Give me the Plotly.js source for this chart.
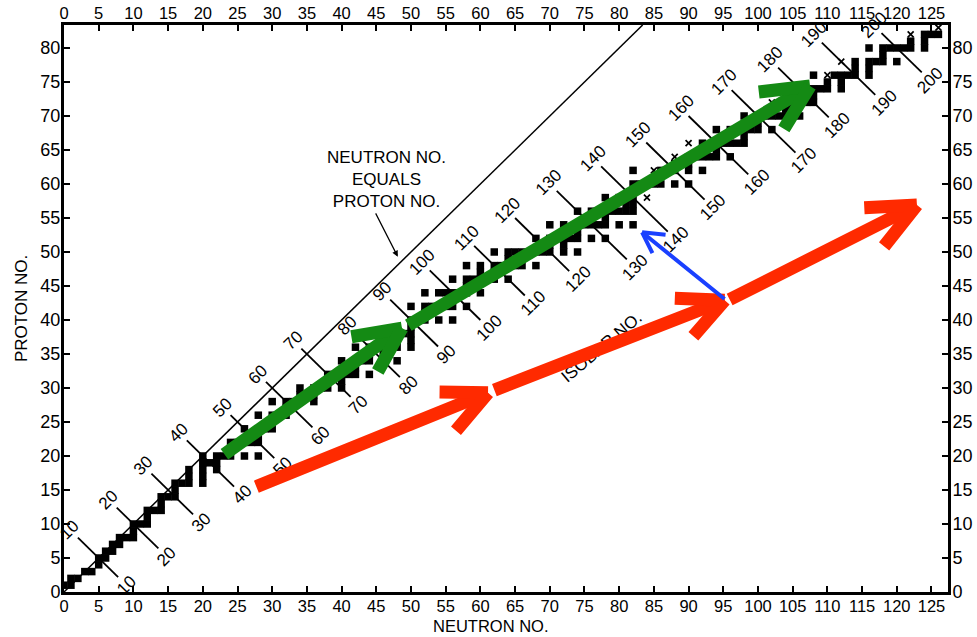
<!DOCTYPE html>
<html><head><meta charset="utf-8">
<script src="https://cdn.plot.ly/plotly-3.0.1.min.js"></script>
<style>html,body{margin:0;padding:0;background:#fff}#chart{width:977px;height:637px}</style>
</head><body><div id="chart"></div>
<script>
// ---- Data: stable nuclides (proton number Z -> mass numbers A) ----
const protonNumbers = [1,2,3,4,5,6,7,8,9,10,11,12,13,14,15,16,17,18,19,20,21,22,23,24,25,26,27,28,29,30,
  31,32,33,34,35,36,37,38,39,40,41,42,43,44,45,46,47,48,49,50,51,52,53,54,55,56,57,58,59,60,
  61,62,63,64,65,66,67,68,69,70,71,72,73,74,75,76,77,78,79,80,81,82,83];
const stableMassNumbers = [
  [1,2],[3,4],[6,7],[9],[10,11],[12,13],[14,15],[16,17,18],[19],[20,21,22],
  [23],[24,25,26],[27],[28,29,30],[31],[32,33,34,36],[35,37],[36,38,40],[39,40,41],[40,42,43,44,46,48],
  [45],[46,47,48,49,50],[50,51],[50,52,53,54],[55],[54,56,57,58],[59],[58,60,61,62,64],[63,65],[64,66,67,68,70],
  [69,71],[70,72,73,74,76],[75],[74,76,77,78,80,82],[79,81],[78,80,82,83,84,86],[85,87],[84,86,87,88],[89],[90,91,92,94,96],
  [93],[92,94,95,96,97,98,100],[],[96,98,99,100,101,102,104],[103],[102,104,105,106,108,110],[107,109],[106,108,110,111,112,113,114,116],[113,115],[112,114,115,116,117,118,119,120,122,124],
  [121,123],[120,122,123,124,125,126,128,130],[127],[124,126,128,129,130,131,132,134,136],[133],[130,132,134,135,136,137,138],[138,139],[136,138,140,142],[141],[142,143,144,145,146,148,150],
  [],[144,147,148,149,150,152,154],[151,153],[152,154,155,156,157,158,160],[159],[156,158,160,161,162,163,164],[165],[162,164,166,167,168,170],[169],[168,170,171,172,173,174,176],
  [175,176],[174,176,177,178,179,180],[180,181],[180,182,183,184,186],[185,187],[184,186,187,188,189,190,192],[191,193],[190,192,194,195,196,198],[197],[196,198,199,200,201,202,204],
  [203,205],[204,206,207,208],[209]
];
// nuclides drawn with a cross instead of a square
const crossZ = [58,62,64,66,72,76,78,82,83];
const crossA = [142,147,152,156,174,186,190,204,209];

// isobar lines: mass number, neutron no. at upper end, neutron no. at lower end
const isobarA      = [10, 20, 30, 40, 50, 60, 70, 80, 90, 100, 110, 120, 130, 140, 150, 160, 170, 180, 190, 200];
const isobarUpperN = [2.0, 7.6, 12.6, 17.7, 24.0, 29.1, 34.2, 42.0, 47.0, 52.7, 59.1, 65.0, 71.0, 77.4, 83.9, 90.0, 96.2, 102.9, 109.2, 117.8];
const isobarLowerN = [7.8, 13.6, 18.6, 24.5, 30.3, 35.8, 41.3, 48.4, 53.9, 60.0, 66.4, 72.8, 81.1, 87.0, 92.3, 98.6, 105.4, 110.2, 116.9, 123.6];

const xMax = 127.38, yMax = 83.38;

// ---- build traces ----
const sqN = [], sqZ = [], crN = [], crZ = [];
protonNumbers.forEach((Z, i) => {
  stableMassNumbers[i].forEach(A => {
    let isCross = false;
    crossZ.forEach((cz, k) => { if (cz === Z && crossA[k] === A) isCross = true; });
    if (!isCross) { sqN.push(A - Z); sqZ.push(Z); }
  });
});
crossZ.forEach((Z, k) => { crN.push(crossA[k] - Z); crZ.push(Z); });

const isoX = [], isoY = [];
isobarA.forEach((A, i) => {
  isoX.push(isobarUpperN[i], isobarLowerN[i], null);
  isoY.push(A - isobarUpperN[i], A - isobarLowerN[i], null);
});

const traces = [
  {x:[0, yMax], y:[0, yMax], mode:'lines', line:{color:'#000', width:1.5}, hoverinfo:'skip'},
  {x:isoX, y:isoY, mode:'lines', line:{color:'#000', width:1.8}, hoverinfo:'skip', connectgaps:false},
  {x:sqN, y:sqZ, mode:'markers', marker:{symbol:'square', size:7.5, color:'#000', line:{width:0}}, hoverinfo:'x+y'},
  {x:crN, y:crZ, mode:'markers', marker:{symbol:'x-thin', size:6, color:'#000', line:{width:1.7, color:'#000'}}, hoverinfo:'x+y'},
  {x:[0], y:[0], xaxis:'x2', yaxis:'y', mode:'markers', marker:{opacity:0}, hoverinfo:'skip'},
  {x:[0], y:[0], xaxis:'x', yaxis:'y2', mode:'markers', marker:{opacity:0}, hoverinfo:'skip'}
];

const NARROW = '"Liberation Sans Narrow", "Liberation Sans", Arial, sans-serif';
const tickFontX = {family:NARROW, size:16.5, color:'#000'};
const tickFontY = {family:NARROW, size:18, color:'#000'};
const labFont = {family:NARROW, size:17, color:'#000'};
const txtFont = {family:'"Liberation Sans", Arial, sans-serif', size:17, color:'#000'};
const titleFont = {family:'"Liberation Sans", Arial, sans-serif', size:16.5, color:'#000'};

const axisBase = {tickmode:'linear', tick0:0, dtick:5, ticks:'inside', ticklen:6, tickwidth:2, tickcolor:'#000',
  showline:true, linewidth:3, linecolor:'#000', showgrid:false, zeroline:false, fixedrange:true};

const ann = [];
isobarA.forEach((A, i) => {
  const nu = isobarUpperN[i] - 1.15, nl = isobarLowerN[i] + 1.2;
  ann.push({x:nu, y:A - nu, xref:'x', yref:'y', text:String(A), textangle:-45, showarrow:false, font:labFont});
  ann.push({x:nl, y:A - nl, xref:'x', yref:'y', text:String(A), textangle:-45, showarrow:false, font:labFont});
});
ann.push({x:46.5, y:60.7, xref:'x', yref:'y', text:'NEUTRON NO.<br>EQUALS<br>PROTON NO.', showarrow:false, font:txtFont, align:'center'});
ann.push({x:48.1, y:49.3, ax:44.8, ay:55.9, axref:'x', ayref:'y', xref:'x', yref:'y', text:'', showarrow:true, arrowhead:2, arrowsize:1, arrowwidth:1.2, arrowcolor:'#000', standoff:0});
ann.push({x:77.4, y:36.0, xref:'x', yref:'y', text:'ISOBAR NO.', textangle:-40, showarrow:false, font:txtFont});
ann.push({x:0.483, y:-0.0605, xref:'paper', yref:'paper', text:'NEUTRON NO.', showarrow:false, font:titleFont, xanchor:'center', yanchor:'middle', borderpad:0});
ann.push({x:-0.048, y:0.5, xref:'paper', yref:'paper', text:'PROTON NO.', textangle:-90, showarrow:false, font:txtFont, xanchor:'center', yanchor:'middle'});

function seg(x0, y0, x1, y1, color, w) {
  return {x:x1, y:y1, ax:x0, ay:y0, xref:'x', yref:'y', axref:'x', ayref:'y', text:'', showarrow:true,
    arrowhead:0, arrowwidth:w, arrowcolor:color, standoff:0, startstandoff:0};
}
const G = '#148a14', R = '#ff2a00', B = '#1a40ff';
// green overlay arrows
ann.push(seg(22.9, 20.1, 48.7, 38.8, G, 13));
ann.push(seg(41.2, 37.5, 48.7, 38.8, G, 13));
ann.push(seg(45.1, 32.2, 48.7, 38.8, G, 13));
ann.push(seg(49.4, 39.1, 107.5, 74.4, G, 13));
ann.push(seg(99.9, 73.5, 107.5, 74.4, G, 13));
ann.push(seg(103.6, 67.9, 107.5, 74.4, G, 13));
// red overlay arrows
ann.push(seg(27.5, 15.4, 61.1, 29.3, R, 13));
ann.push(seg(53.9, 29.4, 61.1, 29.3, R, 13));
ann.push(seg(56.3, 23.5, 61.1, 29.3, R, 13));
ann.push(seg(61.8, 29.6, 95.2, 42.9, R, 13));
ann.push(seg(87.8, 43.2, 95.2, 42.9, R, 13));
ann.push(seg(90.5, 37.4, 95.2, 42.9, R, 13));
ann.push(seg(95.7, 42.9, 122.9, 56.9, R, 13));
ann.push(seg(115.1, 56.5, 122.9, 56.9, R, 13));
ann.push(seg(118.0, 50.6, 122.9, 56.9, R, 13));
// blue overlay arrow
ann.push(seg(95.4, 42.9, 83.3, 52.9, B, 4));
ann.push(seg(84.9, 49.6, 83.3, 52.9, B, 4));
ann.push(seg(86.9, 52.5, 83.3, 52.9, B, 4));

const layout = {
  width:977, height:637, margin:{l:64, r:29, t:25, b:45}, showlegend:false,
  paper_bgcolor:'#fff', plot_bgcolor:'#fff',
  xaxis:Object.assign({}, axisBase, {range:[0, xMax], tickfont:tickFontX, ticklabelstandoff:-3}),
  yaxis:Object.assign({}, axisBase, {range:[0, yMax], tickfont:tickFontY, ticklabelstandoff:-3}),
  xaxis2:Object.assign({}, axisBase, {range:[0, xMax], overlaying:'x', side:'top', anchor:'y', tickfont:tickFontX, ticklabelstandoff:-4}),
  yaxis2:Object.assign({}, axisBase, {range:[0, yMax], overlaying:'y', side:'right', anchor:'x', tickfont:tickFontY, ticklabelstandoff:-2}),
  annotations:ann
};
Plotly.newPlot('chart', traces, layout, {staticPlot:true, displayModeBar:false});
</script></body></html>
